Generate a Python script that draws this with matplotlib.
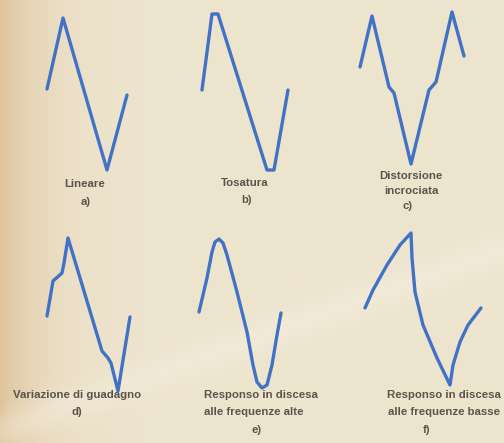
import numpy as np
import matplotlib
matplotlib.use('Agg')
import matplotlib.pyplot as plt

# waveform traces (x, y in picture pixels, y grows down)
lineare_x = [47, 63, 107, 127]
lineare_y = [89, 18, 170, 95]

tosatura_x = [202, 212, 218, 267, 274, 288]
tosatura_y = [90, 14, 14, 170, 170, 90]

incrociata_x = [360, 372, 389, 394, 411, 429, 436, 452, 464]
incrociata_y = [67, 16, 87, 93, 164, 90, 82, 12, 56]

guadagno_x = [47, 53, 62, 64, 68, 102, 108, 111, 118, 130]
guadagno_y = [316, 281, 273, 263, 238, 351, 358, 363, 391, 317]

alte_x = [199, 207, 212, 215, 219, 223, 227, 237, 247, 253, 257, 262, 267, 272, 277, 281]
alte_y = [312, 278, 252, 242, 239, 243, 255, 292, 332, 365, 382, 388, 385, 365, 335, 313]

basse_x = [365, 373, 387, 400, 411, 412, 415, 423, 437, 450, 453, 460, 468, 481]
basse_y = [308, 290, 265, 245, 233, 258, 292, 325, 358, 385, 365, 342, 325, 308]

# captions: text, x, y
captions = [
    ("Lineare", 85, 184), ("a)", 86, 202),
    ("Tosatura", 245, 183), ("b)", 247, 200),
    ("Distorsione", 411, 176), ("incrociata", 411, 191), ("c)", 408, 206),
    ("Variazione di guadagno", 77, 395), ("d)", 77, 412),
    ("Responso in discesa", 261, 395), ("alle frequenze alte", 254, 412), ("e)", 257, 430),
    ("Responso in discesa", 444, 395), ("alle frequenze basse", 444, 412), ("f)", 427, 430),
]

W, H = 504, 443
fig = plt.figure(figsize=(W / 100, H / 100), dpi=100)
ax = fig.add_axes([0, 0, 1, 1])

# paper background: darker tan on the left edge, light crease across the bottom
xx, yy = np.meshgrid(np.arange(W), np.arange(H))
base = np.array([238, 229, 207]) / 255.0
edge = np.array([222, 195, 155]) / 255.0
t = np.exp(-xx / 40.0)[..., None]
bg = base * (1 - t) + edge * t
crease = np.exp(-((yy - (430 - 0.36 * xx)) / 18.0) ** 2)[..., None]
bg = bg * (1 - 0.35 * crease) + np.array([0.97, 0.95, 0.9]) * 0.35 * crease
ax.imshow(bg, extent=(0, W, H, 0), aspect='auto', zorder=0)

blue = '#4172c6'
for xs, ys in [(lineare_x, lineare_y), (tosatura_x, tosatura_y),
               (incrociata_x, incrociata_y), (guadagno_x, guadagno_y),
               (alte_x, alte_y), (basse_x, basse_y)]:
    ax.plot(xs, ys, color=blue, lw=2.4, solid_joinstyle='round',
            solid_capstyle='round', zorder=2)

for txt, x, y in captions:
    ax.text(x, y, txt, ha='center', va='center', fontsize=8.2,
            family='Liberation Sans', weight='bold', color='#5a544c', zorder=3)

ax.set_xlim(0, W)
ax.set_ylim(H, 0)
ax.axis('off')
fig.savefig('out.png', dpi=100)
